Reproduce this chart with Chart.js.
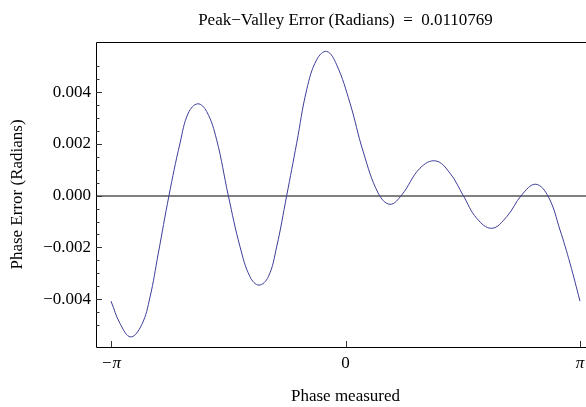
<!DOCTYPE html>
<html>
<head>
<meta charset="utf-8">
<script src="https://cdn.jsdelivr.net/npm/chart.js@4"></script>
<style>
  html, body { margin: 0; padding: 0; background: #fff; overflow: hidden; }
  #wrap { width: 610px; height: 407px; }
</style>
</head>
<body>
<div id="wrap"><canvas id="chart" width="610" height="407"></canvas></div>
<script>

// phase measured (radians)
const phaseMeasured = [
    -3.1416, -3.021, -2.878, -2.730, -2.619, -2.508, -2.365, -2.217, -2.106, -1.980,
    -1.860, -1.726, -1.570, -1.413, -1.279, -1.159, -1.034, -0.922, -0.788, -0.654,
    -0.520, -0.386, -0.252, -0.118, 0.060, 0.238, 0.439, 0.596, 0.753,
    0.998, 1.208, 1.400, 1.578, 1.758, 1.959, 2.160, 2.361, 2.548, 2.717,
    2.874, 3.008, 3.1416
];

// phase error (radians)
const phaseError = [
    -0.004073, -0.004936, -0.005455, -0.004983, -0.003919, -0.002228, 0.000000, 0.002027, 0.003188, 0.003547,
    0.003250, 0.002155, 0.000000, -0.001973, -0.003133, -0.003453, -0.003133, -0.001973, 0.000000, 0.002027,
    0.004089, 0.005250, 0.005571, 0.005050, 0.003574, 0.001690, 0.000093, -0.000333, 0.000027,
    0.001060, 0.001342, 0.000867, 0.000000, -0.000874, -0.001261, -0.000812, 0.000027, 0.000441, -0.000039,
    -0.001327, -0.002615, -0.004073
];

const xTickValues = [-Math.PI, 0, Math.PI];
const xTickLabels = ['\u2212\u03c0', '0', '\u03c0'];
const yMajorStep = 0.002;
const yMinorStep = 0.0005;

const titleText = 'Peak\u2212Valley Error (Radians)  =  0.0110769';
const xTitle = 'Phase measured';
const yTitle = 'Phase Error (Radians)';

Chart.defaults.font.family = "'Liberation Serif', 'Times New Roman', serif";
Chart.defaults.font.size = 17;
Chart.defaults.color = '#000';

function isMultiple(v, step) {
    let r = v / step;
    return Math.abs(r - Math.round(r)) < 1e-6;
}

// frame on left/top/bottom and the little inward tick marks
const frameTicks = {
    id: 'frameTicks',
    afterDraw(chart) {
        const ctx = chart.ctx;
        const a = chart.chartArea;
        const xs = chart.scales.x;
        const ys = chart.scales.y;
        ctx.save();
        ctx.strokeStyle = '#000';
        ctx.lineWidth = 1;
        ctx.beginPath();
        ctx.moveTo(a.right + 5, Math.round(a.top) + 0.5);
        ctx.lineTo(Math.round(a.left) + 0.5, Math.round(a.top) + 0.5);
        ctx.lineTo(Math.round(a.left) + 0.5, Math.round(a.bottom) + 0.5);
        ctx.lineTo(a.right + 5, Math.round(a.bottom) + 0.5);
        ctx.stroke();

        ctx.strokeStyle = '#333';
        ctx.beginPath();
        for (let t of ys.ticks) {
            if (!isMultiple(t.value, yMinorStep)) continue;
            let py = Math.round(ys.getPixelForValue(t.value)) + 0.5;
            let len = isMultiple(t.value, yMajorStep) ? 6 : 3.5;
            ctx.moveTo(a.left, py);
            ctx.lineTo(a.left + len, py);
        }
        for (let v of xTickValues) {
            let px = Math.round(xs.getPixelForValue(v)) + 0.5;
            ctx.moveTo(px, a.bottom);
            ctx.lineTo(px, a.bottom - 6);
        }
        ctx.stroke();
        ctx.restore();
    }
};

const points = phaseMeasured.map((x, i) => ({ x: x, y: phaseError[i] }));

new Chart(document.getElementById('chart'), {
    type: 'line',
    data: {
        datasets: [{
            data: points,
            borderColor: '#3d3d99',
            borderWidth: 1,
            pointRadius: 0,
            fill: false,
            tension: 0.4
        }]
    },
    options: {
        responsive: false,
        animation: false,
        layout: { padding: { left: 0, right: 15, top: 0, bottom: 0 } },
        plugins: {
            legend: { display: false },
            tooltip: { enabled: false },
            title: {
                display: true,
                text: titleText,
                fullSize: false,
                font: { size: 17, weight: 'normal' },
                color: '#000',
                padding: { top: 10, bottom: 11.6 }
            }
        },
        scales: {
            x: {
                type: 'linear',
                min: -Math.PI - 0.201,
                max: Math.PI + 0.201,
                afterFit(scale) { scale.height = 60; },
                afterBuildTicks(scale) {
                    scale.ticks = xTickValues.map(v => ({ value: v }));
                },
                grid: { display: false, drawTicks: false },
                border: { display: false },
                ticks: {
                    autoSkip: false,
                    maxRotation: 0,
                    padding: 6,
                    font: (c) => ({ size: 17, style: (c.tick && c.tick.value !== 0) ? 'italic' : 'normal' }),
                    callback(value) {
                        let i = xTickValues.findIndex(v => Math.abs(v - value) < 1e-9);
                        return i >= 0 ? xTickLabels[i] : '';
                    }
                },
                title: {
                    display: true,
                    text: xTitle,
                    font: { size: 17 },
                    padding: { top: 0, bottom: 0 }
                }
            },
            y: {
                type: 'linear',
                min: -0.005845,
                max: 0.005934,
                afterFit(scale) { scale.width = 96; },
                grid: {
                    drawTicks: false,
                    color: (c) => (c.tick && Math.abs(c.tick.value) < 1e-9) ? '#808080' : 'rgba(0,0,0,0)',
                    lineWidth: (c) => (c.tick && Math.abs(c.tick.value) < 1e-9) ? 2 : 0
                },
                border: { display: false },
                ticks: {
                    stepSize: yMinorStep,
                    autoSkip: false,
                    padding: 5,
                    callback(value) {
                        if (!isMultiple(value, yMajorStep)) return '';
                        let s = Math.abs(value).toFixed(3);
                        return value < -1e-9 ? '\u2212' + s : s;
                    }
                },
                title: {
                    display: true,
                    text: yTitle,
                    font: { size: 17 },
                    padding: { top: 7, bottom: 0 }
                }
            }
        }
    },
    plugins: [frameTicks]
});
</script>
</body>
</html>
